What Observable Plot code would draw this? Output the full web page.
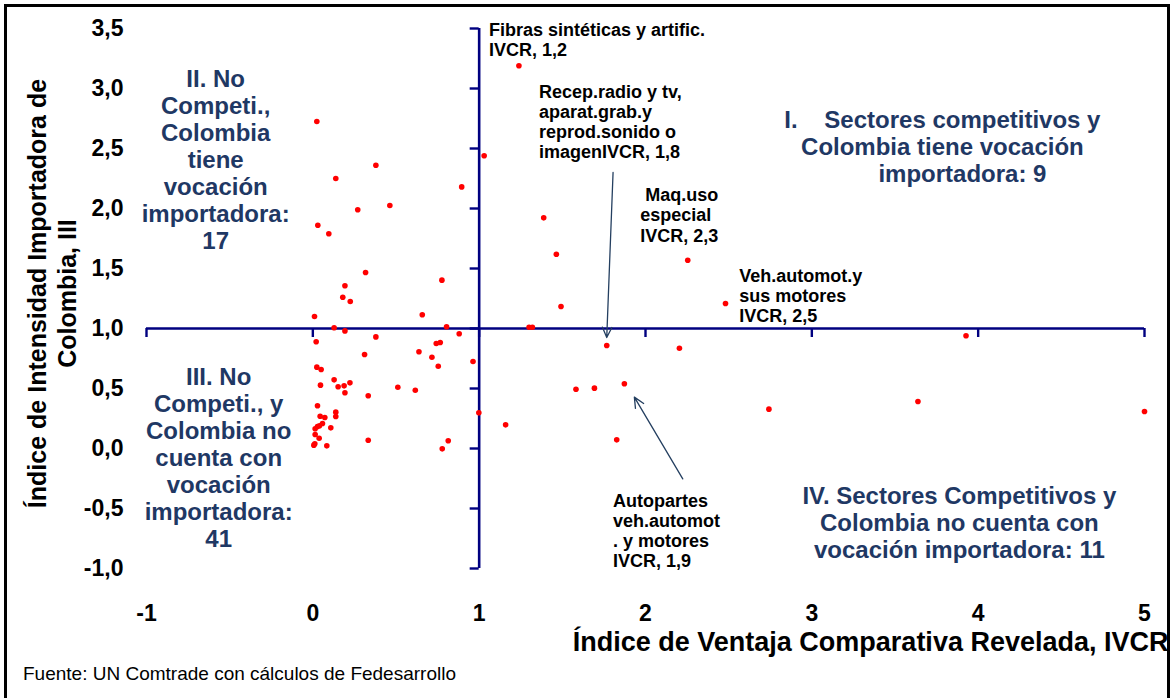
<!DOCTYPE html>
<html>
<head>
<meta charset="utf-8">
<script src="https://cdn.jsdelivr.net/npm/d3@7"></script>
<script src="https://cdn.jsdelivr.net/npm/@observablehq/plot@0.6"></script>
<style>
  body { margin: 0; background: #fff; }
  #wrap { position: relative; width: 1175px; height: 698px; overflow: hidden; background: #fff; }
  #frame { position: absolute; left: 4px; top: 4px; width: 1160px; height: 740px; border: 3px solid #000; pointer-events: none; }
  #caption { margin: 11px 0 0 23px; font: 19px "Liberation Sans", Arial, sans-serif; line-height: 22px; color: #000; }
</style>
</head>
<body>
<div id="wrap">
  <div id="chart"></div>
  <div id="caption"></div>
  <div id="frame"></div>
</div>
<script>
// ---- Data ----
const ivcr = [
  // Quadrant II
  0.024, 0.379, 0.138, 0.27, 0.463, 0.03, 0.096, 0.895, 0.317, 0.193, 0.776, 0.18, 0.225, 0.01, 0.658, 0.128, 0.804,
  // Quadrant I
  1.03, 1.239, 1.388, 1.464, 2.254, 1.492, 2.481, 1.30, 1.32,
  // Quadrant IV
  1.767, 2.204, 1.582, 1.693, 1.873, 1.159, 1.827, 2.742, 3.927, 3.638, 5.0,
  // Quadrant III
  0.193, 0.02, 0.379, 0.88, 0.742, 0.766, 0.311, 0.638, 0.716, 0.963, 0.754, 0.024, 0.05, 0.128, 0.223, 0.152,
  0.188, 0.046, 0.193, 0.511, 0.616, 0.333, 0.028, 0.138, 0.138, 0.044, 0.072, 0.058, 0.028, 0.014, 0.108,
  0.014, 0.038, 0.006, 0.012, 0.084, 0.333, 0.814, 0.778, 0.998, 0.04
];
const iii = [
  2.725, 2.36, 2.25, 1.99, 2.025, 1.86, 1.79, 2.18, 1.467, 1.356, 1.403, 1.26, 1.225, 1.10, 1.114, 1.006, 1.014,
  2.44, 3.189, 1.922, 1.619, 1.569, 1.183, 1.208, 1.011, 1.011,
  0.858, 0.836, 0.494, 0.503, 0.539, 0.197, 0.072, 0.328, 0.939, 0.392, 0.308,
  0.98, 0.89, 0.93, 0.956, 0.875, 0.883, 0.783, 0.806, 0.761, 0.725, 0.686, 0.678, 0.658, 0.572, 0.547, 0.514,
  0.522, 0.528, 0.464, 0.511, 0.486, 0.439, 0.356, 0.303, 0.267, 0.269, 0.258, 0.208, 0.183, 0.164, 0.172,
  0.117, 0.086, 0.028, 0.039, 0.022, 0.069, 0.064, -0.003, 0.297, 0.19
];
const xTicks = [-1, 0, 1, 2, 3, 4, 5];
const yTicks = [-1, -0.5, 0, 0.5, 1, 1.5, 2, 2.5, 3, 3.5];

const quadrantLabels = [
  {x: 3.785, y: 2.517, text: "I.\u00a0\u00a0\u00a0 Sectores competitivos y\nColombia tiene vocación\n\u00a0\u00a0\u00a0\u00a0\u00a0\u00a0importadora: 9"},
  {x: -0.584, y: 2.41, text: "II. No\nCompeti.,\nColombia\ntiene\nvocación\nimportadora:\n17"},
  {x: -0.566, y: -0.075, text: "III. No\nCompeti., y\nColombia no\ncuenta con\nvocación\nimportadora:\n41"},
  {x: 3.887, y: -0.617, text: "IV. Sectores Competitivos y\nColombia no cuenta con\nvocación importadora: 11"}
];
const notes = [
  {x: 1.059, y: 3.555, text: "Fibras sintéticas y artific.\nIVCR, 1,2"},
  {x: 1.968, y: 2.18, text: "\u00a0Maq.uso\nespecial\nIVCR, 2,3"},
  {x: 1.360, y: 3.042, text: "Recep.radio y tv,\naparat.grab.y\nreprod.sonido o\nimagenIVCR, 1,8"},
  {x: 2.563, y: 1.508, text: "Veh.automot.y\nsus motores\nIVCR, 2,5"},
  {x: 1.805, y: -0.367, text: "Autopartes\nveh.automot\n. y motores\nIVCR, 1,9"}
];
const arrows = [
  {x1: 1.805, y1: 2.30, x2: 1.767, y2: 0.925},
  {x1: 2.224, y1: -0.253, x2: 1.933, y2: 0.428}
];
const xTitle = "Índice de Ventaja Comparativa Revelada, IVCR";
const yTitle = "Índice de Intensidad Importadora de\nColombia, III";
const caption = "Fuente: UN Comtrade con cálculos de Fedesarrollo";

// ---- Layout ----
const W = 1175, H = 652, mt = 28, mb = 84, ml = 146, mr = 31;
const xDom = [-1, 5], yDom = [-1, 3.5];
const pxPerX = (W - ml - mr) / (xDom[1] - xDom[0]);
const pxPerY = (H - mt - mb) / (yDom[1] - yDom[0]);
const tickLen = 9;
const navy = "#000080";
const qColor = "#1F3864";
const font = "Liberation Sans, Arial, sans-serif";

const points = ivcr.map((v, i) => ({x: v, y: iii[i]}));

const chart = Plot.plot({
  width: W,
  height: H,
  marginTop: mt, marginBottom: mb, marginLeft: ml, marginRight: mr,
  x: {domain: xDom, axis: null},
  y: {domain: yDom, axis: null},
  style: {fontFamily: font, overflow: "visible", background: "transparent"},
  marks: [
    // axes crossing at (1,1)
    Plot.ruleY([1], {x1: xDom[0], x2: xDom[1], stroke: navy, strokeWidth: 2.6}),
    Plot.ruleX([1], {y1: yDom[0], y2: yDom[1], stroke: navy, strokeWidth: 2.6}),
    Plot.ruleX(xTicks, {x: d => d, y1: 1, y2: 1 - tickLen / pxPerY, stroke: navy, strokeWidth: 2.4}),
    Plot.ruleY(yTicks, {y: d => d, x1: 1, x2: 1 - tickLen / pxPerX, stroke: navy, strokeWidth: 2.4}),
    // tick labels
    Plot.text(yTicks, {y: d => d, frameAnchor: "left", dx: -23, textAnchor: "end",
      text: d => d.toFixed(1).replace(".", ","), fontSize: 23, fontWeight: "bold", fill: "#000"}),
    Plot.text(xTicks, {x: d => d, frameAnchor: "bottom", dy: 45, lineAnchor: "middle",
      text: d => String(d), fontSize: 23, fontWeight: "bold", fill: "#000"}),
    // axis titles
    Plot.text([xTitle], {frameAnchor: "bottom-right", dx: 24, dy: 74, textAnchor: "end", lineAnchor: "middle",
      text: d => d, fontSize: 27, fontWeight: "bold", fill: "#000"}),
    Plot.text([yTitle], {frameAnchor: "left", dx: -95, dy: -5, rotate: -90, textAnchor: "middle", lineAnchor: "middle",
      lineHeight: 1.2, text: d => d, fontSize: 25, fontWeight: "bold", fill: "#000"}),
    // quadrant labels
    Plot.text(quadrantLabels, {x: "x", y: "y", text: "text", textAnchor: "middle", lineAnchor: "middle",
      lineHeight: 1.12, fontSize: 24, fontWeight: "bold", fill: qColor}),
    // annotations
    Plot.text(notes, {x: "x", y: "y", text: "text", textAnchor: "start", lineAnchor: "top",
      lineHeight: 1.12, fontSize: 18, fontWeight: "bold", fill: "#000"}),
    Plot.arrow(arrows, {x1: "x1", y1: "y1", x2: "x2", y2: "y2", stroke: "#243F60", strokeWidth: 1.3,
      headLength: 13, headAngle: 50}),
    // points
    Plot.dot(points, {x: "x", y: "y", r: 2.8, fill: "#FF0000", stroke: "none"})
  ]
});
document.getElementById("chart").appendChild(chart);
document.getElementById("caption").textContent = caption;
</script>
</body>
</html>
